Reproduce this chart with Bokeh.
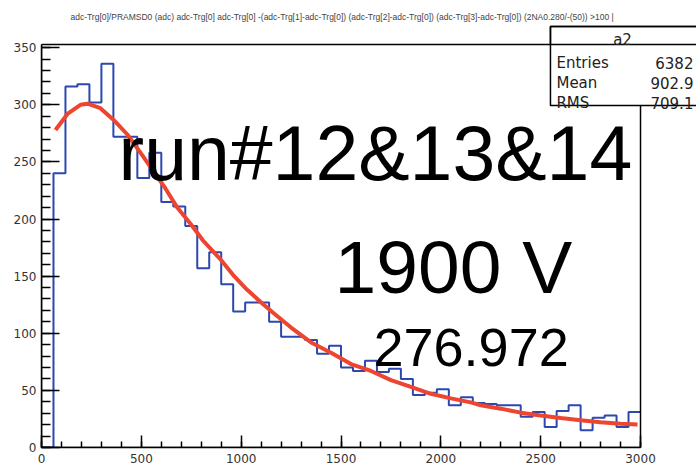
from bokeh.plotting import figure
from bokeh.models import Range1d, SingleIntervalTicker, Label, BoxAnnotation
from bokeh.embed import file_html
from bokeh.resources import INLINE

# ---- data ----
hist_min = 0
hist_max = 3000
n_bins = 50
counts = [0, 240, 316, 318, 302, 336, 272, 272, 236, 258,
          215, 211, 194, 157, 171, 143, 119, 127, 127, 110,
          97, 97, 94, 82, 89, 70, 67, 76, 66, 69,
          60, 46, 48, 51, 37, 44, 39, 38, 37, 37,
          27, 31, 18, 32, 37, 15, 26, 28, 18, 31]

fit_x = [70, 130, 195, 230, 295, 360, 430, 500, 560, 620, 680, 750, 810, 900,
         960, 1030, 1100, 1160, 1250, 1350, 1450, 1550, 1650, 1750, 1850, 1950,
         2050, 2150, 2200, 2300, 2400, 2500, 2600, 2700, 2800, 2900, 2985]
fit_y = [278, 292, 300, 301, 297, 287, 274, 257, 242, 227, 210, 195, 181, 164,
         151, 138, 127, 118, 105, 92, 83, 73, 67, 59, 53, 47,
         43, 39.5, 37, 34, 30.5, 28, 25.8, 23.8, 22.2, 20.8, 20.2]

x_ticks_step = 500
y_ticks_step = 50
y_max = 352.8

stats_title = "a2"
stats_names = ["Entries", "Mean", "RMS"]
stats_values = ["6382", "902.9", "709.1"]

title_text = ("adc-Trg[0]/PRAMSD0 (adc) adc-Trg[0] adc-Trg[0] -(adc-Trg[1]-adc-Trg[0]) "
              "(adc-Trg[2]-adc-Trg[0]) (adc-Trg[3]-adc-Trg[0]) (2NA0.280/-(50)) >100 |")
label_run = "run#12&13&14"
label_hv = "1900 V"
label_val = "276.972"

# ---- build ----
bw = (hist_max - hist_min) / n_bins
edges = [hist_min + i * bw for i in range(n_bins + 1)]
step_y = counts + [counts[-1]]

# frame spans the whole canvas right/top of the axes; axes bounded to the histogram range
p = figure(width=696, height=468, x_range=Range1d(hist_min, 3280.4),
           y_range=Range1d(0, 391.3), output_backend="svg", toolbar_location=None,
           title=None, min_border_left=41, min_border_right=0,
           min_border_top=0, min_border_bottom=21)
p.background_fill_color = "white"
p.border_fill_color = "white"
p.xgrid.visible = False
p.ygrid.visible = False
p.outline_line_color = None

p.step(x=edges, y=step_y, mode="after", line_color="#2a48b0", line_width=2)
p.line(x=fit_x, y=fit_y, line_color="#ee4530", line_width=4)

for ax, tin, mtin, so in ((p.xaxis, 12, 6, 6), (p.yaxis, 18, 9, 5)):
    ax.major_tick_in = tin
    ax.major_tick_out = 0
    ax.minor_tick_in = mtin
    ax.minor_tick_out = 0
    ax.axis_line_width = 1.5
    ax.axis_line_color = "black"
    ax.major_tick_line_width = 1.5
    ax.minor_tick_line_width = 1.5
    ax.major_tick_line_color = "black"
    ax.minor_tick_line_color = "black"
    ax.major_label_text_font = "DejaVu Sans"
    ax.major_label_text_font_size = "12px"
    ax.major_label_text_color = "#333333"
    ax.major_label_standoff = so
p.xaxis.ticker = SingleIntervalTicker(interval=x_ticks_step, num_minor_ticks=5)
p.yaxis.ticker = SingleIntervalTicker(interval=y_ticks_step, num_minor_ticks=5)
p.xaxis.bounds = (hist_min, hist_max)
p.yaxis.bounds = (0, y_max)

# plot frame
p.add_layout(BoxAnnotation(left=hist_min, right=hist_max, bottom=0, top=y_max,
                           fill_alpha=0.0, line_color="black", line_width=1.5, line_alpha=1.0))

# big texts
p.add_layout(Label(x=385.6, y=257.4, text=label_run, text_font="Liberation Sans",
                   text_font_size="77px", text_color="black", text_baseline="alphabetic"))
p.add_layout(Label(x=1467.4, y=157.6, text=label_hv, text_font="Liberation Sans",
                   text_font_size="75px", text_color="black", text_baseline="alphabetic"))
p.add_layout(Label(x=1662.8, y=87.5, text=label_val, text_font="Liberation Sans",
                   text_font_size="54px", text_color="black", text_baseline="alphabetic"))

# title
p.add_layout(Label(x=145, y=377.0, text=title_text, text_font="Liberation Sans",
                   text_font_size="8.5px", text_color="#444444", text_baseline="alphabetic"))

# stats box
p.add_layout(BoxAnnotation(left=2549, right=3320, top=368.6, bottom=299.4,
                           fill_color="white", fill_alpha=1.0,
                           line_color="black", line_width=1.5, line_alpha=1.0))
p.add_layout(BoxAnnotation(left=2549, right=3320, top=368.6, bottom=y_max,
                           fill_alpha=0.0, line_color="black", line_width=1.5, line_alpha=1.0))
p.add_layout(Label(x=2910, y=356.3, text=stats_title, text_font="DejaVu Sans",
                   text_font_size="15px", text_color="#222222", text_align="center",
                   text_baseline="alphabetic"))
for i, (nm, vl) in enumerate(zip(stats_names, stats_values)):
    yy = 337.0 - i * 17.6
    p.add_layout(Label(x=2579, y=yy, text=nm, text_font="DejaVu Sans",
                       text_font_size="15px", text_color="#222222", text_baseline="alphabetic"))
    p.add_layout(Label(x=3265, y=yy, text=vl, text_font="DejaVu Sans",
                       text_font_size="15px", text_color="#222222", text_align="right",
                       text_baseline="alphabetic"))

open("out.html", "w").write(file_html(p, INLINE))
